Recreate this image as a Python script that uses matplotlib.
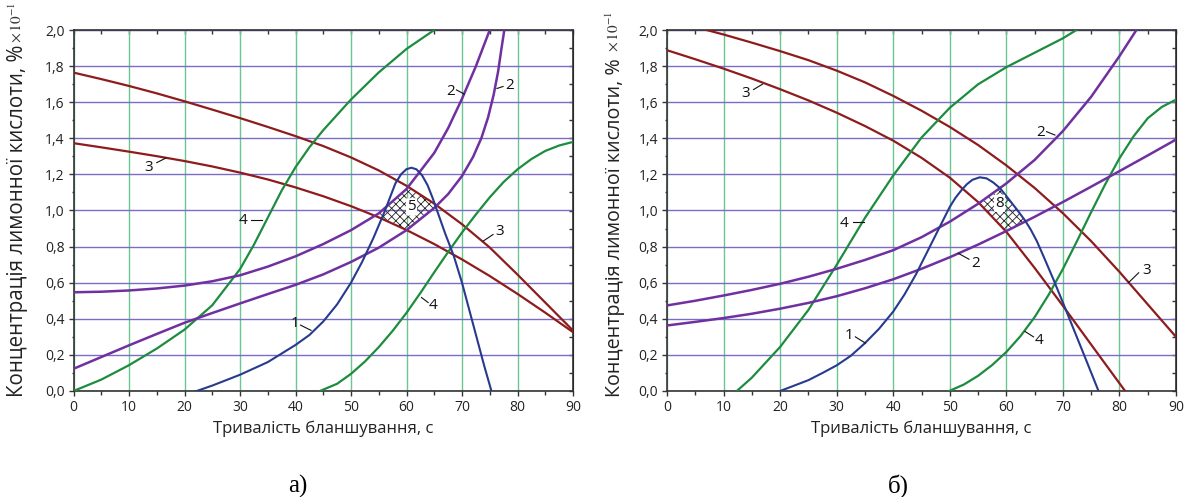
import numpy as np
import matplotlib
matplotlib.use("Agg")
from matplotlib import pyplot as plt
from matplotlib.ticker import MultipleLocator, FuncFormatter

plt.rcParams['font.family'] = ['Open Sans', 'DejaVu Sans']
plt.rcParams['mathtext.fontset'] = 'stix'
plt.rcParams['hatch.linewidth'] = 0.6
plt.rcParams['hatch.color'] = '#222222'

# ---------------- panel a) ----------------
a1_x = [22.2, 25, 30, 35, 40, 42.5, 45, 47.5, 50, 52, 54, 56, 58, 59, 60, 60.9, 61.8, 62.8, 63.8, 64.7, 65.5, 67, 68.5, 70, 72, 74, 75.3]
a1_y = [0.0, 0.03, 0.09, 0.16, 0.255, 0.31, 0.385, 0.48, 0.6, 0.715, 0.845, 0.99, 1.15, 1.2, 1.229, 1.237, 1.228, 1.195, 1.14, 1.07, 1.0, 0.87, 0.75, 0.6, 0.37, 0.14, 0.0]

a2u_x = [0, 5, 10, 15, 20, 25, 30, 35, 40, 45, 50, 55, 60, 65, 67.5, 70, 72.5, 75]
a2u_y = [0.547, 0.55, 0.557, 0.568, 0.584, 0.608, 0.641, 0.689, 0.746, 0.814, 0.891, 0.984, 1.119, 1.319, 1.456, 1.619, 1.799, 2.0]

a2l_x = [0, 5, 10, 15, 20, 25, 30, 35, 40, 45, 50, 55, 60, 65, 67.5, 70, 72, 73.5, 74.7, 75.7, 76.5, 77.1, 77.6]
a2l_y = [0.123, 0.188, 0.253, 0.316, 0.378, 0.432, 0.485, 0.537, 0.588, 0.646, 0.715, 0.794, 0.891, 1.014, 1.091, 1.191, 1.297, 1.402, 1.516, 1.641, 1.769, 1.895, 1.995]

a3u_x = [0, 5, 10, 15, 20, 25, 30, 35, 40, 45, 50, 55, 60, 65, 70, 75, 80, 85, 90]
a3u_y = [1.764, 1.728, 1.69, 1.649, 1.605, 1.559, 1.512, 1.463, 1.412, 1.357, 1.294, 1.222, 1.137, 1.038, 0.924, 0.795, 0.645, 0.49, 0.335]

a3l_x = [0, 5, 10, 15, 20, 25, 30, 35, 40, 45, 50, 55, 60, 65, 70, 75, 80, 85, 90]
a3l_y = [1.373, 1.35, 1.326, 1.301, 1.274, 1.244, 1.21, 1.172, 1.128, 1.079, 1.024, 0.962, 0.892, 0.814, 0.729, 0.637, 0.538, 0.434, 0.326]

a4l_x = [0, 5, 10, 15, 20, 25, 30, 32.5, 35, 37.5, 40, 42.5, 45, 50, 55, 60, 65]
a4l_y = [0.0, 0.063, 0.143, 0.235, 0.34, 0.475, 0.675, 0.81, 0.96, 1.11, 1.24, 1.35, 1.445, 1.615, 1.765, 1.895, 2.0]

a4r_x = [44.4, 47.5, 50, 52.5, 55, 57.5, 60, 62.5, 65, 67.5, 70, 72.5, 75, 77.5, 80, 82.5, 85, 87.5, 90]
a4r_y = [0.0, 0.04, 0.095, 0.163, 0.243, 0.333, 0.433, 0.543, 0.658, 0.77, 0.878, 0.978, 1.073, 1.158, 1.228, 1.285, 1.33, 1.36, 1.38]

# label, text x/y, leader x0/y0 -> x1/y1
a_labels = [
    ("3", 13.5, 1.24, 15.0, 1.265, 16.6, 1.29),
    ("4", 30.5, 0.944, 31.9, 0.95, 34.0, 0.95),
    ("1", 39.9, 0.372, 40.9, 0.365, 42.8, 0.336),
    ("2", 68.0, 1.66, 69.0, 1.668, 70.4, 1.645),
    ("2", 78.5, 1.69, 77.4, 1.687, 76.3, 1.676),
    ("3", 76.8, 0.885, 75.6, 0.867, 73.8, 0.83),
    ("4", 64.8, 0.475, 63.9, 0.49, 62.7, 0.518),
]
a_zone = ("5", 60.9, 1.02)

# ---------------- panel б) ----------------
b1_x = [20, 22.5, 25, 27.5, 30, 32.5, 35, 37.5, 40, 42, 44, 46, 48, 50, 51, 52, 53, 54, 55.3, 56.5, 57.7, 58.9, 60.5, 62, 63.3, 64.3, 65.4, 66.8, 68.3, 70, 72, 74, 76.3]
b1_y = [0.0, 0.03, 0.06, 0.1, 0.142, 0.195, 0.265, 0.345, 0.44, 0.535, 0.645, 0.77, 0.895, 1.02, 1.07, 1.11, 1.145, 1.17, 1.184, 1.178, 1.155, 1.123, 1.06, 1.0, 0.945, 0.895, 0.83, 0.73, 0.62, 0.49, 0.335, 0.18, 0.0]

b2u_x = [0, 5, 10, 15, 20, 25, 30, 35, 40, 45, 50, 55, 60, 65, 70, 75, 80, 83]
b2u_y = [0.474, 0.50, 0.529, 0.56, 0.594, 0.633, 0.677, 0.726, 0.78, 0.852, 0.938, 1.037, 1.15, 1.28, 1.44, 1.63, 1.855, 2.0]

b2l_x = [0, 5, 10, 15, 20, 25, 30, 35, 40, 45, 50, 55, 60, 65, 70, 75, 80, 85, 90]
b2l_y = [0.363, 0.383, 0.404, 0.428, 0.456, 0.488, 0.525, 0.569, 0.619, 0.677, 0.741, 0.811, 0.886, 0.965, 1.047, 1.132, 1.218, 1.305, 1.393]

b3u_x = [7, 10, 15, 20, 25, 30, 35, 40, 45, 50, 55, 60, 65, 70, 75, 80, 85, 90]
b3u_y = [2.0, 1.975, 1.93, 1.883, 1.833, 1.775, 1.71, 1.635, 1.553, 1.463, 1.363, 1.25, 1.125, 0.985, 0.83, 0.66, 0.48, 0.30]

b3l_x = [0, 5, 10, 15, 20, 25, 30, 35, 40, 45, 50, 55, 60, 65, 70, 75, 81]
b3l_y = [1.888, 1.838, 1.786, 1.731, 1.672, 1.61, 1.542, 1.468, 1.387, 1.292, 1.182, 1.047, 0.882, 0.682, 0.472, 0.257, 0.0]

b4l_x = [12.35, 15, 20, 25, 30, 35, 40, 45, 50, 55, 60, 65, 70, 72.4]
b4l_y = [0.0, 0.074, 0.244, 0.449, 0.699, 0.959, 1.194, 1.404, 1.569, 1.699, 1.794, 1.874, 1.954, 2.0]

b4r_x = [49.9, 52.5, 55, 57.5, 60, 62.5, 65, 67.5, 70, 72.5, 75, 77.5, 80, 82.5, 85, 87.5, 90]
b4r_y = [0.0, 0.036, 0.084, 0.144, 0.216, 0.304, 0.409, 0.534, 0.676, 0.831, 0.991, 1.146, 1.289, 1.411, 1.511, 1.574, 1.614]

b_labels = [
    ("3", 13.9, 1.648, 15.3, 1.67, 16.9, 1.70),
    ("4", 31.3, 0.93, 32.8, 0.935, 34.8, 0.935),
    ("1", 32.2, 0.308, 33.3, 0.30, 35.1, 0.265),
    ("2", 66.0, 1.43, 67.1, 1.437, 68.6, 1.418),
    ("2", 54.5, 0.707, 53.4, 0.73, 51.5, 0.763),
    ("3", 84.8, 0.67, 83.4, 0.655, 81.6, 0.60),
    ("4", 65.8, 0.28, 64.8, 0.30, 63.3, 0.33),
]
b_zone = ("8", 58.8, 1.04)

C_BLUE = '#283a8e'
C_PURPLE = '#7030a0'
C_RED = '#8e1c1c'
C_GREEN = '#1d8c3e'
C_VGRID = '#6cc690'
C_HGRID = '#7b6cc8'

comma = FuncFormatter(lambda v, p: ('%.1f' % v).replace('.', ','))


def setup_axes(ax):
    ax.set_xlim(0, 90)
    ax.set_ylim(0, 2.0)
    ax.xaxis.set_major_locator(MultipleLocator(10))
    ax.xaxis.set_minor_locator(MultipleLocator(5))
    ax.yaxis.set_major_locator(MultipleLocator(0.2))
    ax.yaxis.set_minor_locator(MultipleLocator(0.1))
    ax.yaxis.set_major_formatter(comma)
    ax.xaxis.grid(True, which='major', color=C_VGRID, lw=1.0)
    ax.yaxis.grid(True, which='major', color=C_HGRID, lw=1.0)
    ax.set_axisbelow(True)
    ax.tick_params(which='major', direction='out', length=3.5, width=1.0,
                   color='#333333', labelsize=10, labelcolor='#222222', pad=3)
    ax.tick_params(axis='x', which='minor', direction='out', length=3, width=1.0, color='#333333')
    ax.tick_params(axis='y', which='minor', direction='out', length=1.5, width=1.0, color='#333333')
    for s in ax.spines.values():
        s.set_color('#333333')
        s.set_linewidth(1.2)
    top = ax.secondary_xaxis('top')
    top.xaxis.set_major_locator(MultipleLocator(5))
    top.tick_params(direction='in', length=3, width=1.0, color='#333333', labeltop=False)
    right = ax.secondary_yaxis('right')
    right.yaxis.set_major_locator(MultipleLocator(0.1))
    right.tick_params(direction='in', length=3, width=1.0, color='#333333', labelright=False)
    ax.set_xlabel('Тривалість бланшування, с', fontsize=12, color='#222222', labelpad=4)


def draw_curves(ax, curves):
    for xs, ys, col, lw in curves:
        ax.plot(xs, ys, color=col, lw=lw, solid_joinstyle='round', zorder=3)


def draw_labels(ax, labels, zone):
    for t, tx, ty, x0, y0, x1, y1 in labels:
        ax.text(tx, ty, t, ha='center', va='center', fontsize=11, color='#111111', zorder=5)
        ax.plot([x0, x1], [y0, y1], color='#111111', lw=0.8, zorder=5)
    t, tx, ty = zone
    ax.text(tx, ty, t, ha='center', va='center', fontsize=11, color='#111111', zorder=6,
            bbox=dict(boxstyle='round,pad=0.08', fc='white', ec='none'))


def hatch_zone(ax, low_curves, high_curves):
    xg = np.linspace(0, 90, 1801)
    lo = np.max([np.interp(xg, cx, cy, left=np.nan, right=np.nan) for cx, cy in low_curves], axis=0)
    hi = np.min([np.interp(xg, cx, cy, left=np.nan, right=np.nan) for cx, cy in high_curves], axis=0)
    ok = hi > lo
    ax.fill_between(xg, lo, hi, where=ok, facecolor='none', edgecolor='#222222',
                    hatch='xxxx', lw=0, zorder=2.5)


fig = plt.figure(figsize=(11.86, 4.97), dpi=100)
ax_a = fig.add_axes([73.5 / 1186, 1 - 391 / 497, 499.5 / 1186, 361 / 497])
ax_b = fig.add_axes([667 / 1186, 1 - 391 / 497, 509 / 1186, 361 / 497])

for ax in (ax_a, ax_b):
    setup_axes(ax)

hatch_zone(ax_a, [(a3l_x, a3l_y), (a2l_x, a2l_y)], [(a3u_x, a3u_y), (a2u_x, a2u_y)])
draw_curves(ax_a, [
    (a3u_x, a3u_y, C_RED, 1.6), (a3l_x, a3l_y, C_RED, 1.6),
    (a4l_x, a4l_y, C_GREEN, 1.6), (a4r_x, a4r_y, C_GREEN, 1.6),
    (a2u_x, a2u_y, C_PURPLE, 1.8), (a2l_x, a2l_y, C_PURPLE, 1.8),
    (a1_x, a1_y, C_BLUE, 1.5),
])
draw_labels(ax_a, a_labels, a_zone)

hatch_zone(ax_b, [(b3l_x, b3l_y), (b2l_x, b2l_y)], [(b1_x, b1_y), (b2u_x, b2u_y)])
draw_curves(ax_b, [
    (b3u_x, b3u_y, C_RED, 1.6), (b3l_x, b3l_y, C_RED, 1.6),
    (b4l_x, b4l_y, C_GREEN, 1.6), (b4r_x, b4r_y, C_GREEN, 1.6),
    (b2u_x, b2u_y, C_PURPLE, 1.8), (b2l_x, b2l_y, C_PURPLE, 1.8),
    (b1_x, b1_y, C_BLUE, 1.5),
])
draw_labels(ax_b, b_labels, b_zone)

# y-axis titles, with the serif multiplier placed just above the text
ylab = 'Концентрація лимонної кислоти, %'
fig.canvas.draw()
renderer = fig.canvas.get_renderer()
for xc, size, gap in ((18, 14.8, 2), (615, 14.2, 6)):
    t = fig.text(xc / 1186, 1 - 397 / 497, ylab, rotation=90, ha='center', va='bottom',
                 fontsize=size, color='#222222')
    top_px = t.get_window_extent(renderer).y1
    fig.text((xc - 1) / 1186, (top_px + gap) / 497, r'$\times\,10^{-1}$', rotation=90,
             ha='center', va='bottom', fontsize=11, color='#333333')

fig.text(298 / 1186, 1 - 486 / 497, 'а)', ha='center', va='center', fontsize=18,
         family=['Liberation Serif', 'DejaVu Serif'])
fig.text(898 / 1186, 1 - 486 / 497, 'б)', ha='center', va='center', fontsize=18,
         family=['Liberation Serif', 'DejaVu Serif'])

fig.savefig('out.png', dpi=100)
